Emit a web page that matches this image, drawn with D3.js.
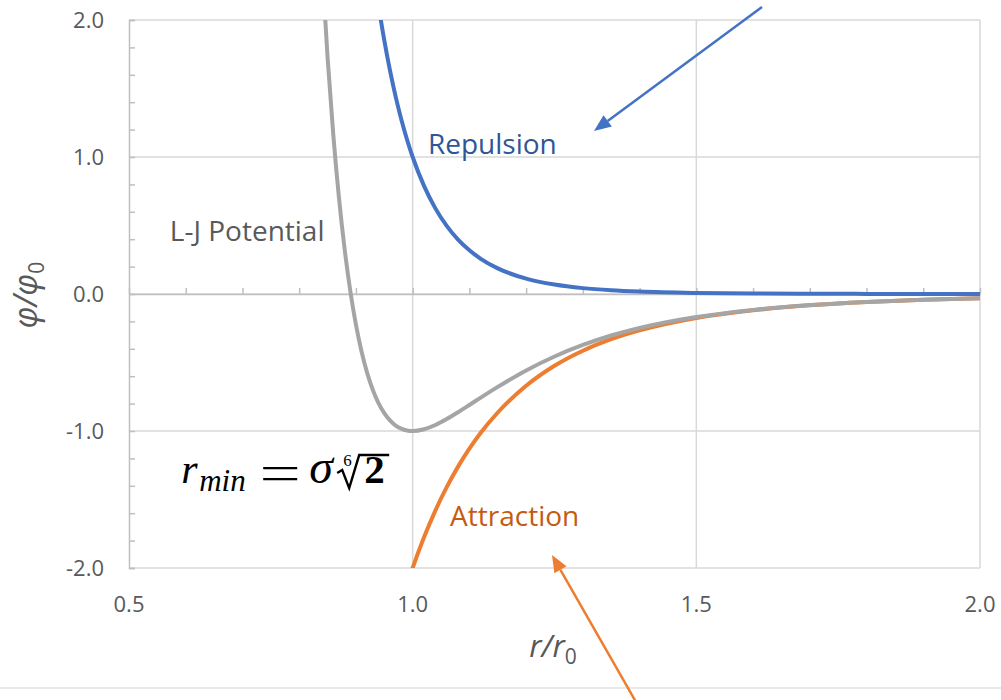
<!DOCTYPE html>
<html>
<head>
<meta charset="utf-8">
<script src="https://cdn.jsdelivr.net/npm/d3@7"></script>
<style>
  html, body { margin: 0; padding: 0; background: #fff; }
  svg { display: block; }
</style>
</head>
<body>
<svg id="chart" width="1001" height="700"></svg>
<script>
// Reduced distance r/r0 at which the curves are sampled
const radius = [0.84, 0.85, 0.86, 0.87, 0.88, 0.89, 0.90, 0.91, 0.92, 0.93, 0.94, 0.95,
  0.96, 0.97, 0.98, 0.99, 1.00, 1.02, 1.04, 1.06, 1.08, 1.10, 1.12, 1.15, 1.20, 1.25,
  1.30, 1.35, 1.40, 1.50, 1.60, 1.70, 1.80, 1.90, 2.00];

// Repulsive term (r0/r)^12
const repulsion = [8.103, 7.030, 6.110, 5.319, 4.637, 4.049, 3.541, 3.101, 2.720, 2.389,
  2.101, 1.851, 1.632, 1.441, 1.274, 1.128, 1.000, 0.789, 0.625, 0.497, 0.397, 0.319,
  0.257, 0.187, 0.112, 0.0687, 0.0429, 0.0273, 0.0176, 0.0077, 0.0036, 0.0017, 0.0009,
  0.00045, 0.00024];

// Attractive term -2(r0/r)^6
const attraction = [-5.693, -5.303, -4.944, -4.612, -4.307, -4.024, -3.763, -3.522, -3.298,
  -3.091, -2.899, -2.721, -2.555, -2.401, -2.258, -2.124, -2.000, -1.776, -1.581, -1.410,
  -1.260, -1.129, -1.013, -0.865, -0.670, -0.524, -0.414, -0.330, -0.266, -0.1756,
  -0.1192, -0.0829, -0.0588, -0.0425, -0.03125];

// Lennard-Jones potential (sum of both terms)
const potential = [2.410, 1.727, 1.166, 0.706, 0.330, 0.024, -0.223, -0.421, -0.579, -0.702,
  -0.798, -0.870, -0.923, -0.960, -0.983, -0.996, -1.000, -0.987, -0.956, -0.913, -0.863,
  -0.810, -0.756, -0.678, -0.558, -0.456, -0.372, -0.303, -0.248, -0.168, -0.116, -0.081,
  -0.058, -0.042, -0.031];

const xTicks = [0.5, 1.0, 1.5, 2.0];
const yTicks = [-2.0, -1.0, 0.0, 1.0, 2.0];

const svg = d3.select("#chart");
const font = "'Open Sans', sans-serif";
const fmt = d => d3.format(".1f")(d).replace("\u2212", "-");

const x = d3.scaleLinear().domain([0.5, 2.0]).range([129, 980]);
const y = d3.scaleLinear().domain([-2.0, 2.0]).range([568, 20]);

// Gridlines
const grid = svg.append("g").attr("stroke", "#d9d9d9").attr("stroke-width", 1.5);
grid.selectAll("line.h").data(yTicks).join("line")
  .attr("x1", x(0.5)).attr("x2", x(2.0))
  .attr("y1", d => y(d)).attr("y2", d => y(d));
grid.selectAll("line.v").data(xTicks.slice(1)).join("line")
  .attr("x1", d => x(d)).attr("x2", d => x(d))
  .attr("y1", y(2.0)).attr("y2", y(-2.0));

// Vertical axis with minor ticks every 0.2
const yAxis = d3.axisLeft(y).tickValues(d3.range(-2.0, 2.01, 0.2)).tickSize(-6).tickFormat("");
const gy = svg.append("g").attr("transform", `translate(${x(0.5)},0)`).call(yAxis);
gy.select(".domain").attr("stroke", "#bfbfbf").attr("stroke-width", 1.5);
gy.selectAll(".tick line").attr("stroke", "#bfbfbf").attr("stroke-width", 1.5);

// Horizontal axis through zero, minor ticks every 0.1
const xAxis = d3.axisTop(x).tickValues(d3.range(0.5, 2.001, 0.1)).tickSize(6).tickFormat("").tickSizeOuter(0);
const gx = svg.append("g").attr("transform", `translate(0,${y(0)})`).call(xAxis);
gx.select(".domain").attr("stroke", "#bfbfbf").attr("stroke-width", 1.5);
gx.selectAll(".tick line").attr("stroke", "#bfbfbf").attr("stroke-width", 1.5);

// Tick labels
svg.append("g").selectAll("text").data(yTicks).join("text")
  .attr("x", 104).attr("y", d => y(d)).attr("dy", "0.36em")
  .attr("text-anchor", "end").attr("font-family", font).attr("font-size", 22)
  .attr("fill", "#595959").text(fmt);
svg.append("g").selectAll("text").data(xTicks).join("text")
  .attr("x", d => x(d)).attr("y", 604).attr("dy", "0.36em")
  .attr("text-anchor", "middle").attr("font-family", font).attr("font-size", 22)
  .attr("fill", "#595959").text(fmt);

// Axis titles
const yTitle = svg.append("text")
  .attr("transform", "translate(37,295) rotate(-90)")
  .attr("text-anchor", "middle").attr("font-family", font).attr("font-size", 32)
  .attr("fill", "#595959");
yTitle.append("tspan").attr("font-style", "italic").text("φ/φ");
yTitle.append("tspan").attr("font-size", 21).attr("dy", 7).text("0");

const xTitle = svg.append("text")
  .attr("x", 553).attr("y", 657)
  .attr("text-anchor", "middle").attr("font-family", font).attr("font-size", 31)
  .attr("fill", "#595959");
xTitle.append("tspan").attr("font-style", "italic").text("r/r");
xTitle.append("tspan").attr("font-size", 21).attr("dy", 7).text("0");

// Curves, clipped to the plot area
svg.append("clipPath").attr("id", "plot-clip").append("rect")
  .attr("x", x(0.5)).attr("y", y(2.0))
  .attr("width", x(2.0) - x(0.5)).attr("height", y(-2.0) - y(2.0));

const series = [
  { values: attraction, color: "#ed7d31" },
  { values: potential, color: "#a5a5a5" },
  { values: repulsion, color: "#4472c4" }
];
const line = d3.line().curve(d3.curveMonotoneX);
svg.append("g").attr("clip-path", "url(#plot-clip)")
  .selectAll("path").data(series).join("path")
  .attr("d", s => line(radius.map((r, i) => [x(r), y(s.values[i])])))
  .attr("fill", "none").attr("stroke", s => s.color)
  .attr("stroke-width", 4).attr("stroke-linejoin", "round").attr("stroke-linecap", "round");

// Curve labels
const labels = [
  { text: "Repulsion", r: 1.027, v: 1.02, color: "#2f5597" },
  { text: "L-J Potential", r: 0.572, v: 0.39, color: "#595959" },
  { text: "Attraction", r: 1.066, v: -1.69, color: "#c55a11" }
];
svg.append("g").selectAll("text").data(labels).join("text")
  .attr("x", d => x(d.r)).attr("y", d => y(d.v))
  .attr("font-family", font).attr("font-size", 28)
  .attr("fill", d => d.color).text(d => d.text);

// Separator line under the chart
svg.append("line").attr("x1", 0).attr("x2", 1001).attr("y1", 688).attr("y2", 688)
  .attr("stroke", "#e3e3e3").attr("stroke-width", 1.5);

// Pointer arrows
function arrow(x1, y1, x2, y2, color) {
  const ang = Math.atan2(y2 - y1, x2 - x1);
  const len = 17, half = 7;
  const bx = x2 - len * Math.cos(ang), by = y2 - len * Math.sin(ang);
  const g = svg.append("g");
  g.append("line").attr("x1", x1).attr("y1", y1).attr("x2", bx).attr("y2", by)
    .attr("stroke", color).attr("stroke-width", 2.5);
  const px = -Math.sin(ang) * half, py = Math.cos(ang) * half;
  g.append("polygon")
    .attr("points", `${x2},${y2} ${bx + px},${by + py} ${bx - px},${by - py}`)
    .attr("fill", color);
}
arrow(762, 7, 594, 131, "#4472c4");
arrow(636, 702, 552, 555, "#ed7d31");

// Formula r_min = σ·⁶√2
const serif = "'Liberation Serif', 'DejaVu Serif', serif";
const fx = x(0.592), fy = y(-1.38);
const f = svg.append("g").attr("transform", `translate(${fx},${fy})`)
  .attr("font-family", serif).attr("fill", "#000");
f.append("text").attr("x", 0).attr("y", 0).attr("font-size", 42).attr("font-style", "italic").text("r");
f.append("text").attr("x", 18).attr("y", 8).attr("font-size", 31).attr("font-style", "italic").text("min");
// equals sign drawn as two bars
f.append("path").attr("d", "M82,-15 L116,-15 M82,-4 L116,-4")
  .attr("stroke", "#000").attr("stroke-width", 2.2);
f.append("text").attr("x", 128).attr("y", 0).attr("font-size", 48).attr("font-style", "italic").text("σ");
f.append("text").attr("x", 162).attr("y", -17).attr("font-size", 17).text("6");
f.append("path")
  .attr("d", "M156,-10 L161,-13 L168,5 L178,-28 L208,-28")
  .attr("fill", "none").attr("stroke", "#000").attr("stroke-width", 2.4)
  .attr("stroke-linejoin", "miter");
f.append("text").attr("x", 183).attr("y", 0).attr("font-size", 41).attr("font-weight", "bold").text("2");
</script>
</body>
</html>
